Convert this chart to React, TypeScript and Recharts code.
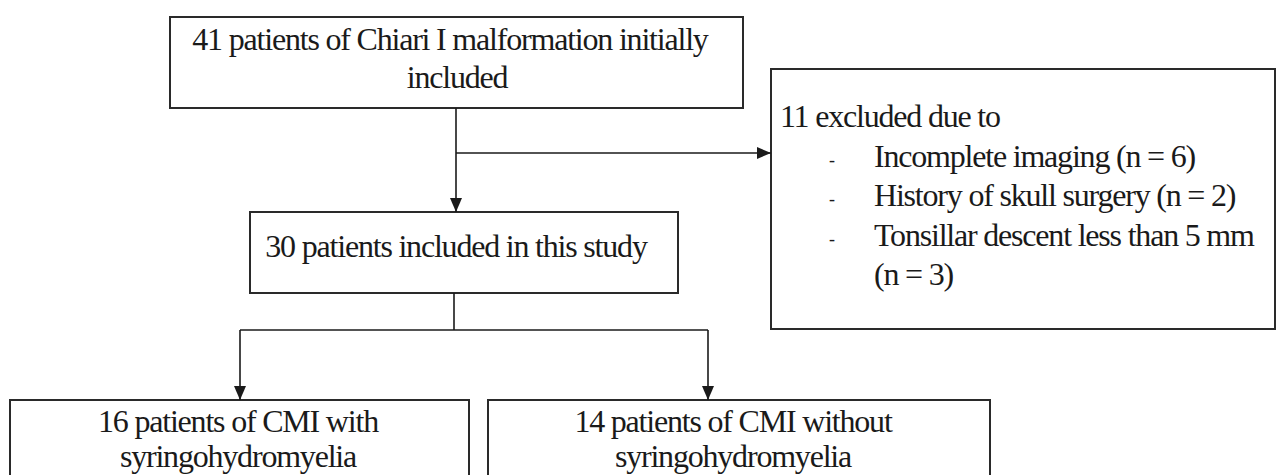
import { ComposedChart, XAxis, YAxis, ReferenceArea, ReferenceLine, Scatter } from "recharts";

// flowchart nodes (page pixel units, y grows downward)
const boxes = [
     { id: "initial", x1: 170, x2: 743, y1: 17, y2: 108 },
     { id: "included", x1: 250, x2: 678, y1: 212, y2: 293 },
     { id: "excluded", x1: 771, x2: 1275, y1: 69, y2: 329 },
     { id: "syrinx", x1: 10, x2: 469, y1: 400, y2: 490 },
     { id: "noSyrinx", x1: 488, x2: 990, y1: 400, y2: 490 },
];

const connectors = [
     { from: { x: 456, y: 108 }, to: { x: 456, y: 212 } },
     { from: { x: 456, y: 153 }, to: { x: 771, y: 153 } },
     { from: { x: 454, y: 293 }, to: { x: 454, y: 330 } },
     { from: { x: 240, y: 330 }, to: { x: 708, y: 330 } },
     { from: { x: 240, y: 330 }, to: { x: 240, y: 400 } },
     { from: { x: 708, y: 330 }, to: { x: 708, y: 400 } },
];

const arrowTips = [
     { x: 456, y: 212, dir: "down" },
     { x: 771, y: 153, dir: "right" },
     { x: 240, y: 400, dir: "down" },
     { x: 708, y: 400, dir: "down" },
];

const labels = [
     { x: 450, y: 50, text: "41 patients of Chiari I malformation initially", anchor: "middle" },
     { x: 457, y: 88, text: "included", anchor: "middle" },
     { x: 456, y: 257, text: "30 patients included in this study", anchor: "middle" },
     { x: 780, y: 127, text: "11 excluded due to", anchor: "start" },
     { x: 829, y: 166, text: "-", anchor: "start" },
     { x: 874, y: 167, text: "Incomplete imaging (n = 6)", anchor: "start" },
     { x: 829, y: 205, text: "-", anchor: "start" },
     { x: 874, y: 206, text: "History of skull surgery (n = 2)", anchor: "start" },
     { x: 829, y: 245, text: "-", anchor: "start" },
     { x: 874, y: 246, text: "Tonsillar descent less than 5 mm", anchor: "start" },
     { x: 874, y: 285, text: "(n = 3)", anchor: "start" },
     { x: 238, y: 432, text: "16 patients of CMI with", anchor: "middle" },
     { x: 238, y: 467, text: "syringohydromyelia", anchor: "middle" },
     { x: 733, y: 432, text: "14 patients of CMI without", anchor: "middle" },
     { x: 733, y: 467, text: "syringohydromyelia", anchor: "middle" },
];

const INK = "#1a1a1a";

const TextShape = (props: any) => {
     const { cx, cy, payload } = props;
     const small = payload.text === "-";
     return (
          <text
               x={cx}
               y={cy}
               textAnchor={payload.anchor}
               fill={INK}
               fontFamily="'Liberation Serif', 'Times New Roman', serif"
               fontSize={small ? 18 : 32}
               style={{ letterSpacing: small ? "0px" : "-1.2px" }}
          >
               {payload.text}
          </text>
     );
};

const ArrowShape = (props: any) => {
     const { cx, cy, payload } = props;
     const len = 14;
     const half = 6;
     const pts =
          payload.dir === "down"
               ? `${cx},${cy} ${cx - half},${cy - len} ${cx + half},${cy - len}`
               : `${cx},${cy} ${cx - len},${cy - half} ${cx - len},${cy + half}`;
     return <polygon points={pts} fill={INK} />;
};

export default function App() {
     return (
          <div style={{ position: "absolute", left: 0, top: 0, background: "#fff" }}>
               <ComposedChart width={1278} height={475} margin={{ top: 0, right: 0, bottom: 0, left: 0 }}>
                    <XAxis type="number" dataKey="x" domain={[0, 1278]} hide allowDataOverflow />
                    <YAxis type="number" dataKey="y" domain={[0, 475]} reversed hide allowDataOverflow />
                    {boxes.map((b) => (
                         <ReferenceArea
                              key={b.id}
                              x1={b.x1}
                              x2={b.x2}
                              y1={b.y1}
                              y2={b.y2}
                              fill="#fff"
                              fillOpacity={1}
                              stroke="#2a2a2a"
                              strokeWidth={2}
                              ifOverflow="visible"
                         />
                    ))}
                    {connectors.map((c, i) => (
                         <ReferenceLine
                              key={i}
                              segment={[c.from, c.to]}
                              stroke={INK}
                              strokeWidth={1.6}
                              ifOverflow="visible"
                         />
                    ))}
                    <Scatter data={arrowTips} shape={ArrowShape} isAnimationActive={false} />
                    <Scatter data={labels} shape={TextShape} isAnimationActive={false} />
               </ComposedChart>
          </div>
     );
}
